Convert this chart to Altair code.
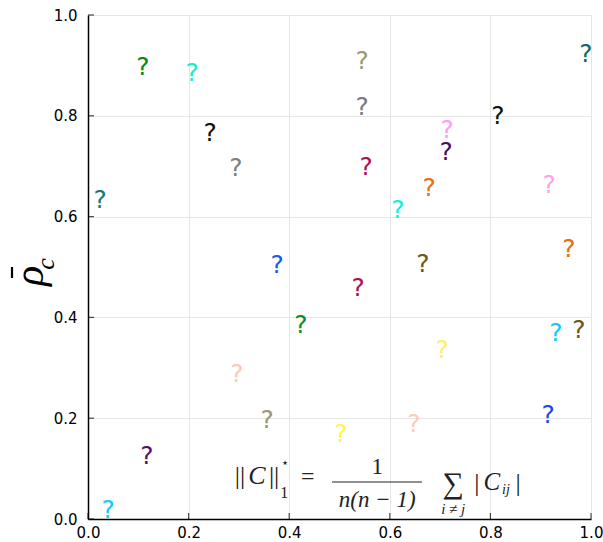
import altair as alt
import pandas as pd

# --- data ---
xs = [0.109, 0.207, 0.024, 0.243, 0.294, 0.545, 0.545, 0.553, 0.616, 0.990,
      0.815, 0.714, 0.712, 0.678, 0.917, 0.956, 0.666, 0.376, 0.537, 0.423,
      0.296, 0.356, 0.503, 0.704, 0.648, 0.930, 0.976, 0.915, 0.117, 0.040]
ys = [0.897, 0.885, 0.633, 0.766, 0.696, 0.909, 0.817, 0.698, 0.613, 0.923,
      0.800, 0.772, 0.728, 0.657, 0.663, 0.536, 0.506, 0.504, 0.458, 0.385,
      0.288, 0.196, 0.169, 0.335, 0.188, 0.369, 0.375, 0.206, 0.125, 0.018]
colors = ["#0a870a", "#10f0c8", "#1a7878", "#111111", "#808080", "#9a9a78",
          "#7a7a86", "#b0105a", "#10f0dc", "#106a6a", "#111111", "#ff9cf5",
          "#4e0c60", "#e8701a", "#ffa0f0", "#e86a14", "#6b5a15", "#1a5aeb",
          "#b01050", "#108f1f", "#ffc8b4", "#999977", "#fff550", "#fff060",
          "#ffcbb8", "#18c8f5", "#6e5a14", "#1450e6", "#50146e", "#18c8f5"]
labels = ["?"] * len(xs)
tick_vals = [0.0, 0.2, 0.4, 0.6, 0.8, 1.0]

df = pd.DataFrame({"x": xs, "y": ys, "c": colors, "t": labels})
ticks = pd.DataFrame({"v": tick_vals})

W, H = 503, 504
xsc = alt.Scale(domain=[0, 1], nice=False, zero=False)
ysc = alt.Scale(domain=[0, 1], nice=False, zero=False)

xax = alt.Axis(values=tick_vals, format=".1f", grid=True, ticks=False,
               labelPadding=6, labelFlush=False, title=None)
yax = alt.Axis(values=tick_vals, format=".1f", grid=True, ticks=False,
               labelPadding=11, labelFlush=False, title=None)

pts = alt.Chart(df).mark_text(font="DejaVu Sans", fontSize=25,
                              baseline="middle", align="center").encode(
    x=alt.X("x:Q", scale=xsc, axis=xax),
    y=alt.Y("y:Q", scale=ysc, axis=yax),
    text="t:N",
    color=alt.Color("c:N", scale=None),
)

xt = alt.Chart(ticks).mark_tick(orient="vertical", size=6, thickness=1.2,
                                color="black", yOffset=-3).encode(
    x=alt.X("v:Q", scale=xsc), y=alt.datum(0))
yt = alt.Chart(ticks).mark_tick(orient="horizontal", size=6, thickness=1.2,
                                color="black", xOffset=3).encode(
    y=alt.Y("v:Q", scale=ysc), x=alt.datum(0))

# formula annotation pieces (data coordinates)
ann_up = pd.DataFrame({
    "x": [0.302, 0.370, 0.390, 0.392, 0.437, 0.575, 0.726, 0.773, 0.855],
    "y": [0.0853, 0.0853, 0.0516, 0.111, 0.0833, 0.103, 0.0694, 0.0714, 0.0714],
    "t": ["||", "||", "1", "⋆", "=", "1", "∑", "|", "|"],
    "s": [26, 26, 16, 13, 24, 23, 30, 26, 26],
})
ann_it = pd.DataFrame({
    "x": [0.336, 0.575, 0.726, 0.803, 0.831],
    "y": [0.0853, 0.0377, 0.0198, 0.0734, 0.0575],
    "t": ["C", "n(n − 1)", "i ≠ j", "C", "ij"],
    "s": [26, 23, 15, 25, 14],
})

def ann_layer(d, style):
    return alt.Chart(d).mark_text(font="Liberation Serif", fontStyle=style,
                                  color="#222222", baseline="middle",
                                  align="center").encode(
        x=alt.X("x:Q", scale=xsc), y=alt.Y("y:Q", scale=ysc),
        text="t:N", size=alt.Size("s:Q", scale=None))

bar = alt.Chart(pd.DataFrame({"a": [0.485], "b": [0.664], "y": [0.0734]})).mark_rule(
    color="#222222", strokeWidth=1.2).encode(
    x=alt.X("a:Q", scale=xsc), x2="b:Q", y=alt.Y("y:Q", scale=ysc))

rho = alt.Chart(pd.DataFrame({"t": ["ρ"]})).mark_text(
    font="Liberation Serif", fontStyle="italic", fontSize=42, angle=270,
    align="center", baseline="middle", color="black").encode(
    text="t:N", x=alt.value(-58), y=alt.value(261))
macron = alt.Chart(pd.DataFrame({"t": ["m"]})).mark_rule(
    color="black", strokeWidth=2.2).encode(
    x=alt.value(-76), x2=alt.value(-76), y=alt.value(252), y2=alt.value(263))
sub_c = alt.Chart(pd.DataFrame({"t": ["c"]})).mark_text(
    font="Liberation Serif", fontStyle="italic", fontSize=26, angle=270,
    align="center", baseline="middle", color="black").encode(
    text="t:N", x=alt.value(-42), y=alt.value(249))

chart = alt.layer(pts, xt, yt, bar, ann_layer(ann_up, "normal"),
                  ann_layer(ann_it, "italic"), rho, macron, sub_c).properties(
    width=W, height=H,
    autosize=alt.AutoSizeParams(type="none"),
    padding={"left": 88, "top": 15, "right": 12, "bottom": 23},
).configure_view(stroke=None).configure_axis(
    domainColor="black", domainWidth=1.5, gridColor="#e6e6e6", gridWidth=1,
    labelFont="DejaVu Sans", labelFontSize=15, labelColor="black",
)

chart.save("out.html", embed_options={"renderer": "svg", "actions": False})
